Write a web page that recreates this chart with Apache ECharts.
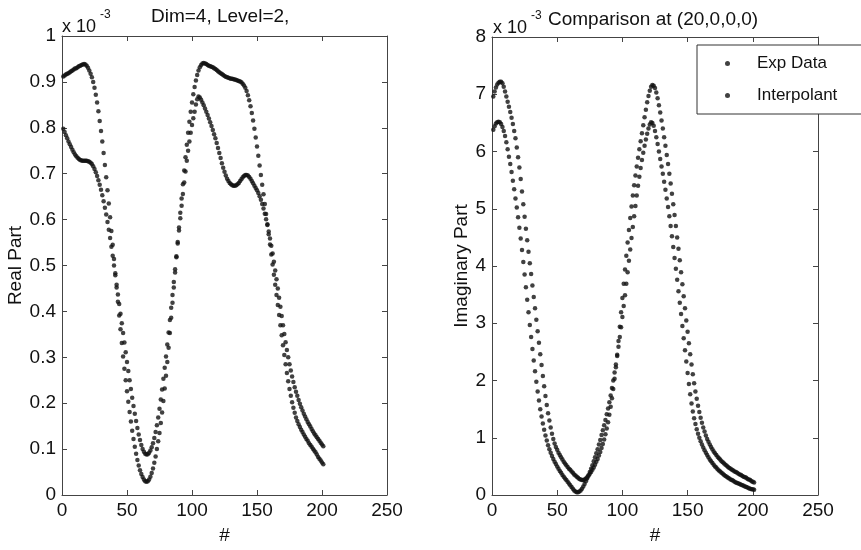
<!DOCTYPE html>
<html>
<head>
<meta charset="UTF-8">
<title>Dim=4, Level=2 - Real / Imaginary Part</title>
<script src="https://cdn.jsdelivr.net/npm/echarts@6/dist/echarts.min.js"></script>
<style>html,body{margin:0;padding:0;background:#fff}</style>
</head>
<body>
<div id="main" style="width:861px;height:550px"></div>
<script type="text/javascript">
// values are in units of 1e-3, sample # runs 1..201
var realExp = [
  .912,.914,.916,.918,.919,.921,.923,.925,.927,.929,
  .930,.932,.934,.935,.937,.938,.939,.938,.935,.931,
  .925,.918,.910,.900,.887,.872,.855,.836,.815,.793,
  .770,.745,.719,.692,.664,.635,.605,.575,.545,.514,
  .483,.452,.421,.391,.361,.331,.302,.275,.250,.226,
  .203,.181,.160,.140,.122,.105,.090,.076,.064,.054,
  .046,.039,.034,.030,.029,.030,.034,.040,.048,.058,
  .070,.084,.100,.117,.135,.157,.180,.205,.232,.260,
  .290,.321,.353,.386,.419,.452,.485,.518,.551,.583,
  .615,.646,.677,.707,.736,.763,.789,.813,.835,.855,
  .873,.889,.903,.915,.925,.932,.937,.940,.941,.940,
  .939,.937,.935,.934,.933,.932,.930,.928,.926,.923,
  .921,.919,.917,.915,.913,.911,.910,.909,.908,.907,
  .907,.906,.905,.904,.903,.902,.901,.899,.896,.892,
  .887,.880,.871,.860,.847,.832,.816,.798,.779,.759,
  .739,.718,.697,.676,.655,.634,.612,.590,.568,.546,
  .524,.502,.480,.458,.436,.414,.392,.370,.348,.326,
  .305,.285,.266,.248,.231,.216,.202,.190,.179,.169,
  .161,.154,.148,.142,.137,.132,.127,.122,.118,.113,
  .109,.105,.101,.097,.093,.088,.083,.079,.075,.071,
  .067
];
var realInterp = [
  .798,.791,.784,.777,.770,.764,.758,.752,.747,.742,
  .738,.735,.732,.730,.729,.728,.728,.728,.728,.727,
  .726,.724,.721,.716,.710,.703,.695,.686,.676,.665,
  .653,.640,.626,.611,.595,.578,.560,.541,.521,.500,
  .479,.458,.437,.416,.395,.374,.353,.332,.311,.290,
  .270,.250,.231,.212,.194,.177,.161,.146,.132,.120,
  .109,.100,.094,.090,.088,.089,.092,.097,.104,.113,
  .124,.137,.152,.169,.188,.208,.230,.253,.277,.302,
  .328,.354,.381,.408,.436,.464,.492,.520,.548,.576,
  .603,.630,.656,.681,.705,.728,.750,.770,.789,.806,
  .821,.835,.851,.862,.868,.866,.861,.855,.849,.842,
  .835,.828,.820,.812,.804,.795,.786,.777,.767,.756,
  .745,.734,.723,.713,.704,.696,.689,.684,.680,.677,
  .675,.674,.674,.675,.677,.680,.684,.688,.692,.695,
  .697,.697,.696,.693,.689,.684,.679,.674,.669,.664,
  .658,.651,.643,.634,.624,.613,.601,.588,.574,.559,
  .543,.526,.508,.489,.470,.450,.430,.410,.390,.370,
  .351,.333,.316,.300,.285,.271,.258,.246,.235,.225,
  .216,.207,.199,.191,.184,.177,.171,.165,.159,.154,
  .149,.144,.139,.134,.130,.126,.122,.118,.114,.110,
  .106
];
var imagExp = [
  6.96,7.05,7.12,7.17,7.20,7.22,7.22,7.19,7.13,7.05,
  6.96,6.87,6.78,6.69,6.59,6.48,6.36,6.23,6.07,5.90,
  5.72,5.52,5.30,5.08,4.86,4.65,4.45,4.25,4.05,3.86,
  3.66,3.46,3.26,3.06,2.86,2.66,2.46,2.27,2.08,1.90,
  1.73,1.57,1.43,1.30,1.18,1.07,0.98,0.90,0.84,0.79,
  0.74,0.70,0.66,0.62,0.58,0.55,0.52,0.49,0.46,0.44,
  0.41,0.39,0.36,0.34,0.32,0.30,0.28,0.27,0.26,0.26,
  0.27,0.29,0.31,0.34,0.37,0.40,0.44,0.48,0.53,0.58,
  0.63,0.69,0.75,0.82,0.89,0.97,1.06,1.16,1.27,1.40,
  1.54,1.69,1.85,2.03,2.23,2.45,2.69,2.94,3.19,3.44,
  3.69,3.94,4.18,4.41,4.63,4.84,5.04,5.23,5.41,5.58,
  5.74,5.89,6.04,6.18,6.32,6.46,6.60,6.73,6.86,6.97,
  7.06,7.13,7.16,7.15,7.11,7.03,6.93,6.81,6.68,6.54,
  6.40,6.25,6.10,5.94,5.78,5.61,5.44,5.26,5.08,4.89,
  4.70,4.50,4.30,4.10,3.89,3.68,3.47,3.26,3.05,2.85,
  2.65,2.46,2.28,2.11,1.95,1.81,1.68,1.56,1.45,1.35,
  1.26,1.18,1.11,1.04,0.98,0.93,0.88,0.84,0.80,0.76,
  0.73,0.70,0.67,0.64,0.62,0.59,0.57,0.55,0.53,0.51,
  0.49,0.47,0.46,0.44,0.43,0.41,0.40,0.39,0.37,0.36,
  0.35,0.33,0.32,0.31,0.30,0.28,0.27,0.26,0.24,0.23,
  0.22
];
var imagInterp = [
  6.38,6.44,6.49,6.51,6.52,6.51,6.48,6.43,6.36,6.27,
  6.16,6.04,5.91,5.78,5.64,5.49,5.34,5.18,5.02,4.85,
  4.67,4.48,4.28,4.07,3.85,3.63,3.41,3.19,2.97,2.76,
  2.55,2.35,2.16,1.98,1.81,1.65,1.50,1.37,1.25,1.14,
  1.04,0.95,0.87,0.80,0.74,0.68,0.63,0.58,0.54,0.50,
  0.46,0.42,0.39,0.35,0.32,0.29,0.26,0.23,0.20,0.17,
  0.14,0.11,0.08,0.06,0.05,0.05,0.06,0.08,0.11,0.15,
  0.19,0.24,0.29,0.34,0.40,0.46,0.52,0.59,0.66,0.73,
  0.80,0.88,0.96,1.05,1.13,1.22,1.31,1.41,1.51,1.62,
  1.74,1.87,2.00,2.14,2.28,2.43,2.59,2.76,2.93,3.11,
  3.30,3.49,3.69,3.89,4.09,4.29,4.49,4.68,4.87,5.05,
  5.23,5.40,5.56,5.71,5.85,5.98,6.10,6.21,6.31,6.40,
  6.47,6.51,6.50,6.45,6.36,6.25,6.13,6.00,5.87,5.74,
  5.61,5.47,5.33,5.18,5.03,4.87,4.70,4.52,4.33,4.14,
  3.95,3.76,3.56,3.36,3.16,2.95,2.74,2.53,2.33,2.13,
  1.94,1.76,1.60,1.46,1.34,1.24,1.15,1.07,1.00,0.94,
  0.88,0.83,0.78,0.74,0.70,0.66,0.62,0.59,0.56,0.53,
  0.50,0.48,0.45,0.43,0.41,0.39,0.37,0.35,0.33,0.32,
  0.30,0.29,0.27,0.26,0.25,0.23,0.22,0.21,0.20,0.19,
  0.18,0.17,0.16,0.15,0.14,0.13,0.12,0.11,0.10,0.10,
  0.09
];
var legendNames = ['Exp Data', 'Interpolant'];

var font = 'Liberation Sans, Arial, Helvetica, sans-serif';
var ink = '#111';
var frame = '#444';
var dotColor = '#111';

function pairs(vals) {
  var out = [];
  for (var i = 0; i < vals.length; i++) out.push([i + 1, vals[i]]);
  return out;
}

function makeAxis(gi, pos, min, max, step, opts) {
  var labelled = (pos == 'bottom' || pos == 'left');
  var ax = {
    gridIndex: gi, type: 'value', position: pos,
    min: min, max: max, interval: step,
    axisLine: {show: true, onZero: false, lineStyle: {color: frame, width: 1}},
    axisTick: {show: true, inside: true, length: 5, lineStyle: {color: frame}},
    axisLabel: {show: labelled, color: ink, fontSize: 19, fontFamily: font, margin: 6,
                formatter: function (v) { return String(+v.toFixed(1)); }},
    splitLine: {show: false}
  };
  for (var k in opts) ax[k] = opts[k];
  return ax;
}

var nameStyle = {color: ink, fontSize: 19, fontFamily: font};

var option = {
  backgroundColor: '#fff',
  animation: false,
  textStyle: {fontFamily: font},
  title: [
    {text: 'Dim=4, Level=2,', left: 151, top: 7, padding: 0,
     textStyle: {fontSize: 19, fontWeight: 'normal', color: ink, fontFamily: font}},
    {text: 'Comparison at (20,0,0,0)', left: 548, top: 10, padding: 0,
     textStyle: {fontSize: 19, fontWeight: 'normal', color: ink, fontFamily: font}}
  ],
  graphic: [
    {type: 'text', left: 62, top: 18, style: {text: 'x 10', font: '18px ' + font, fill: ink}},
    {type: 'text', left: 100, top: 9, style: {text: '-3', font: '12px ' + font, fill: ink}},
    {type: 'text', left: 493, top: 19, style: {text: 'x 10', font: '18px ' + font, fill: ink}},
    {type: 'text', left: 531, top: 10, style: {text: '-3', font: '12px ' + font, fill: ink}}
  ],
  legend: {
    data: legendNames,
    orient: 'vertical',
    left: 697, top: 45,
    padding: [10, 160, 10, 28],
    itemGap: 15,
    itemWidth: 5, itemHeight: 5,
    selectedMode: false,
    backgroundColor: '#fff',
    borderColor: '#333', borderWidth: 1, borderRadius: 0,
    textStyle: {color: ink, fontSize: 17, fontFamily: font, padding: [0, 0, 0, 22]}
  },
  grid: [
    {left: 62, top: 36, width: 325, height: 466},
    {left: 492, top: 37, width: 326, height: 465}
  ],
  xAxis: [
    makeAxis(0, 'bottom', 0, 250, 50, {name: '#', nameLocation: 'middle', nameGap: 31, nameTextStyle: nameStyle}),
    makeAxis(0, 'top', 0, 250, 50, {}),
    makeAxis(1, 'bottom', 0, 250, 50, {name: '#', nameLocation: 'middle', nameGap: 31, nameTextStyle: nameStyle}),
    makeAxis(1, 'top', 0, 250, 50, {})
  ],
  yAxis: [
    makeAxis(0, 'left', 0, 1, 0.1, {name: 'Real Part', nameLocation: 'middle', nameGap: 31, nameTextStyle: nameStyle}),
    makeAxis(0, 'right', 0, 1, 0.1, {}),
    makeAxis(1, 'left', 0, 8, 1, {name: 'Imaginary Part', nameLocation: 'middle', nameGap: 18, nameTextStyle: nameStyle}),
    makeAxis(1, 'right', 0, 8, 1, {})
  ],
  series: [
    {name: 'Real Exp', type: 'scatter', xAxisIndex: 0, yAxisIndex: 0, symbolSize: 4.5,
     itemStyle: {color: dotColor}, data: pairs(realExp)},
    {name: 'Real Interp', type: 'scatter', xAxisIndex: 0, yAxisIndex: 0, symbolSize: 4.5,
     itemStyle: {color: dotColor}, data: pairs(realInterp)},
    {name: 'Exp Data', type: 'scatter', xAxisIndex: 2, yAxisIndex: 2, symbolSize: 4.5,
     itemStyle: {color: dotColor}, data: pairs(imagExp)},
    {name: 'Interpolant', type: 'scatter', xAxisIndex: 2, yAxisIndex: 2, symbolSize: 4.5,
     itemStyle: {color: dotColor}, data: pairs(imagInterp)}
  ]
};

var myChart = echarts.init(document.getElementById('main'), null, {renderer: 'canvas'});
myChart.setOption(option);
</script>
</body>
</html>
